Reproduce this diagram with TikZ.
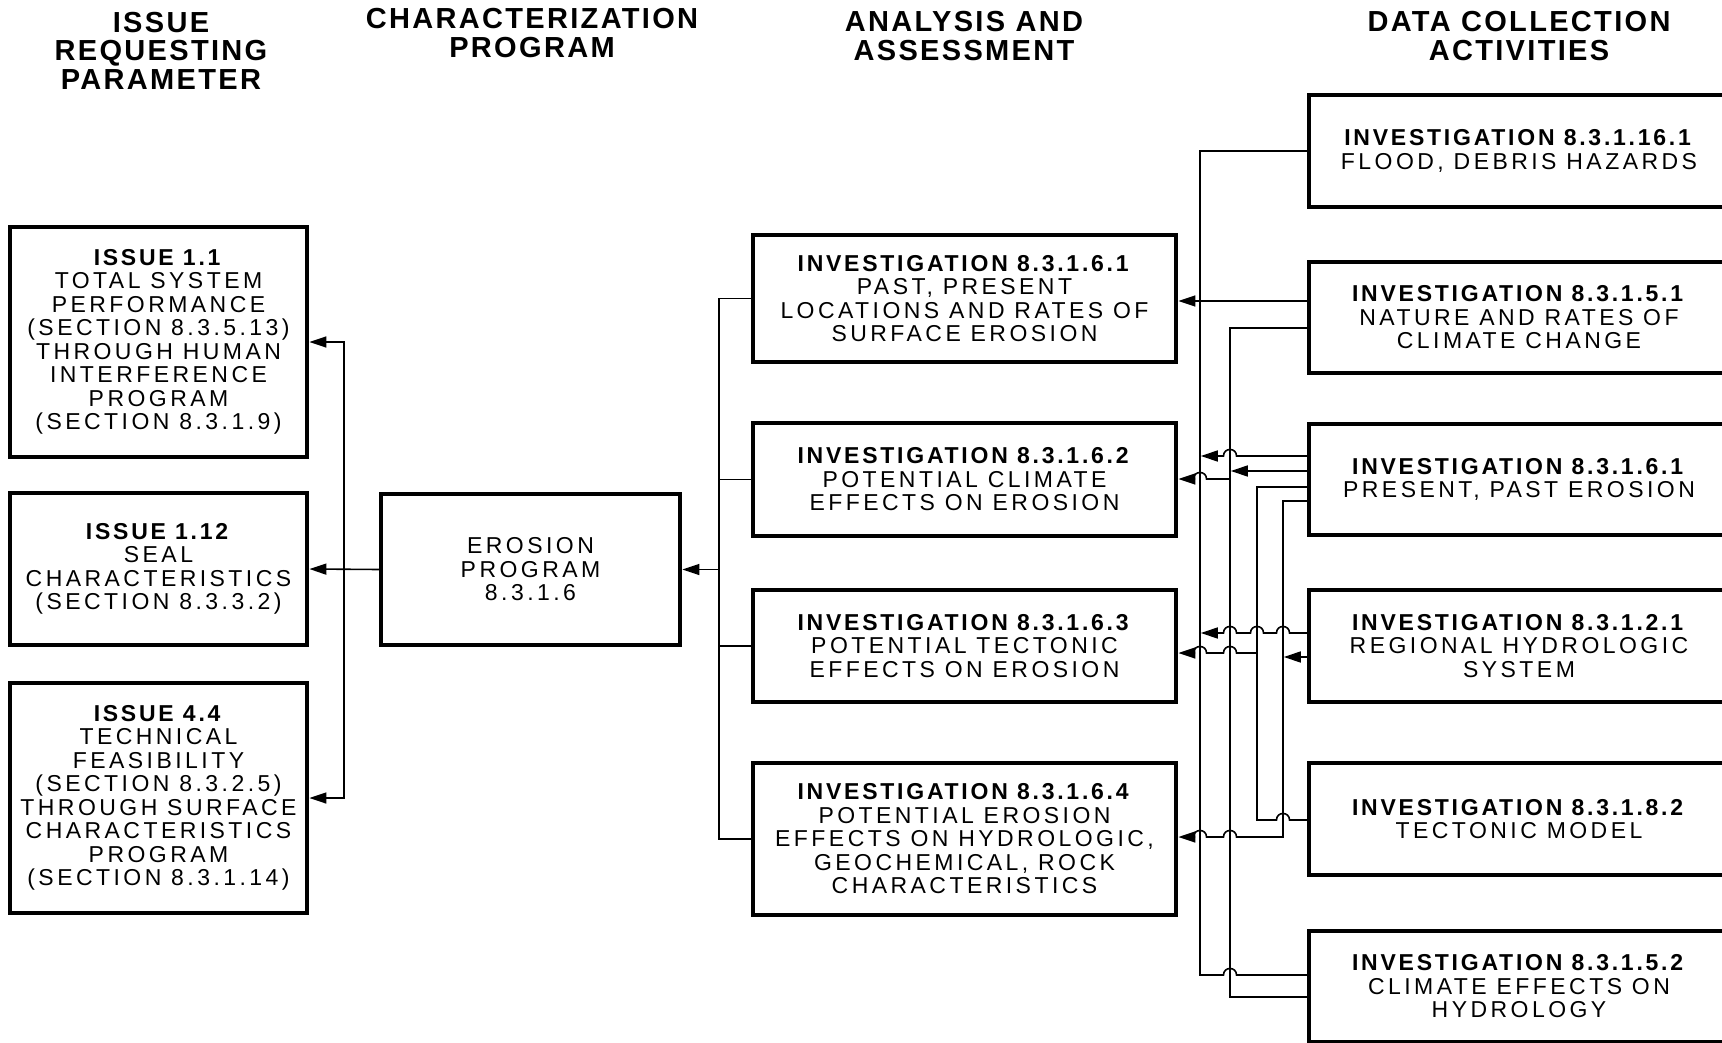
\documentclass[tikz,border=0pt]{standalone}
\usepackage{fontspec}
\setmainfont{Liberation Sans}[UprightFeatures={LetterSpace=15},BoldFeatures={LetterSpace=12}]
\newfontfamily\hdrfont{Liberation Sans}[LetterSpace=8]
\usetikzlibrary{arrows.meta}
\newcommand{\hopat}[2]{-- ({#1+6.5},#2) .. controls +(0,-8.7) and +(0,-8.7) .. ({#1-6.5},#2)}
\tikzset{
  box/.style={draw, line width=3.2pt, align=center, inner sep=0pt,
    font=\fontsize{23}{23.5}\selectfont},
  hdr/.style={align=center, inner sep=0pt,
    font=\hdrfont\fontsize{29}{28.5}\selectfont\bfseries},
  conn/.style={line width=1.6pt},
  arr/.style={conn, -{Triangle[length=17pt,width=11pt]}, shorten >=0.8pt},
}
\begin{document}
\begin{tikzpicture}[x=1pt,y=-1pt]
\useasboundingbox (0,0) rectangle (1722,1043);
\fill[white] (0,0) rectangle (1722,1043);
\begin{scope}
\clip (0,0) rectangle (1722,1043);
% headers
\node[hdr] (h1) at (161,50.5) {ISSUE\\REQUESTING\\PARAMETER};
\node[hdr] (h2) at (532,33) {CHARACTERIZATION\\PROGRAM};
\node[hdr] (h3) at (964,36) {ANALYSIS AND\\ASSESSMENT};
\node[hdr] (h4) at (1519,36) {DATA COLLECTION\\ACTIVITIES};
% issue boxes
\node[box, minimum width=297, minimum height=230] (i11) at (158.5,342)
  {\textbf{ISSUE 1.1}\\TOTAL SYSTEM\\PERFORMANCE\\(SECTION 8.3.5.13)\\THROUGH HUMAN\\INTERFERENCE\\PROGRAM\\(SECTION 8.3.1.9)};
\node[box, minimum width=297, minimum height=152] (i112) at (158.5,569)
  {\textbf{ISSUE 1.12}\\SEAL\\CHARACTERISTICS\\(SECTION 8.3.3.2)};
\node[box, minimum width=297, minimum height=230] (i44) at (158.5,798)
  {\textbf{ISSUE 4.4}\\TECHNICAL\\FEASIBILITY\\(SECTION 8.3.2.5)\\THROUGH SURFACE\\CHARACTERISTICS\\PROGRAM\\(SECTION 8.3.1.14)};
% program
\node[box, minimum width=299, minimum height=151] (ep) at (530.5,569.5)
  {EROSION\\PROGRAM\\8.3.1.6};
% analysis
\node[box, minimum width=423, minimum height=127] (a1) at (964.5,298.5)
  {\textbf{INVESTIGATION 8.3.1.6.1}\\PAST, PRESENT\\LOCATIONS AND RATES OF\\SURFACE EROSION};
\node[box, minimum width=423, minimum height=113] (a2) at (964.5,479.5)
  {\textbf{INVESTIGATION 8.3.1.6.2}\\POTENTIAL CLIMATE\\EFFECTS ON EROSION};
\node[box, minimum width=423, minimum height=112] (a3) at (964.5,646)
  {\textbf{INVESTIGATION 8.3.1.6.3}\\POTENTIAL TECTONIC\\EFFECTS ON EROSION};
\node[box, minimum width=423, minimum height=152] (a4) at (964.5,839)
  {\textbf{INVESTIGATION 8.3.1.6.4}\\POTENTIAL EROSION\\EFFECTS ON HYDROLOGIC,\\GEOCHEMICAL, ROCK\\CHARACTERISTICS};
% data collection
\node[box, minimum width=420, minimum height=112] (d1) at (1519,151)
  {\textbf{INVESTIGATION 8.3.1.16.1}\\FLOOD, DEBRIS HAZARDS};
\node[box, minimum width=420, minimum height=111] (d2) at (1519,317.5)
  {\textbf{INVESTIGATION 8.3.1.5.1}\\NATURE AND RATES OF\\CLIMATE CHANGE};
\node[box, minimum width=420, minimum height=111] (d3) at (1519,479.5)
  {\textbf{INVESTIGATION 8.3.1.6.1}\\PRESENT, PAST EROSION};
\node[box, minimum width=420, minimum height=112] (d4) at (1519,646)
  {\textbf{INVESTIGATION 8.3.1.2.1}\\REGIONAL HYDROLOGIC\\SYSTEM};
\node[box, minimum width=420, minimum height=112] (d5) at (1519,819)
  {\textbf{INVESTIGATION 8.3.1.8.2}\\TECTONIC MODEL};
\node[box, minimum width=420, minimum height=111] (d6) at (1519,986.5)
  {\textbf{INVESTIGATION 8.3.1.5.2}\\CLIMATE EFFECTS ON\\HYDROLOGY};
\end{scope}
% bus coordinates
\coordinate (LB) at (344,0);
\coordinate (MB) at (719,0);
\coordinate (BA) at (1200,0);
\coordinate (BB) at (1230,0);
\coordinate (BC) at (1257,0);
\coordinate (BD) at (1283,0);
% left connectors
\draw[arr] (ep.west) -- (i112.east);
\draw[arr] (LB |- ep.west) |- (i11.east);
\draw[arr] (LB |- ep.west) |- (i44.east);
% middle connectors
\draw[arr] (MB |- ep.east) -- (ep.east);
\draw[conn] (a1.west) -| (MB |- a4.west) -- (a4.west);
\draw[conn] (MB |- a2.west) -- (a2.west);
\draw[conn] (MB |- a3.west) -- (a3.west);
% right connectors
\draw[conn] (d6.west |- 0,975) \hopat{1230}{975} -- (BA |- 0,975) -- (BA |- d1.west) -- (d1.west);
\draw[arr] (d2.west |- 0,301) -- (a1.east |- 0,301);
\draw[conn] (d2.west |- 0,328) -| (BB |- 0,997) -- (d6.west |- 0,997);
\draw[arr] (d3.west |- 0,456) \hopat{1230}{456} -- (BA |- 0,456);
\draw[arr] (d3.west |- 0,471) -- (BB |- 0,471);
\draw[arr] (BB |- 0,479) \hopat{1200}{479} -- (a2.east |- 0,479);
\draw[conn] (d5.west |- 0,820) \hopat{1283}{820} -- (BC |- 0,820) -- (BC |- 0,487) -- (d3.west |- 0,487);
\draw[arr] (d3.west |- 0,501) -| (BD |- 0,837) \hopat{1230}{837} \hopat{1200}{837} -- (a4.east |- 0,837);
\draw[arr] (d4.west |- 0,633) \hopat{1283}{633} \hopat{1257}{633} \hopat{1230}{633} -- (BA |- 0,633);
\draw[arr] (BC |- 0,653) \hopat{1230}{653} \hopat{1200}{653} -- (a3.east |- 0,653);
\draw[arr] (d4.west |- 0,657) -- (BD |- 0,657);
\end{tikzpicture}
\end{document}
